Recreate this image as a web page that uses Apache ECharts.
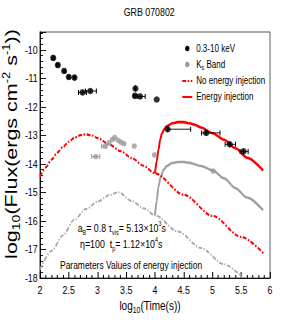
<!DOCTYPE html>
<html><head><meta charset="utf-8">
<script src="https://cdn.jsdelivr.net/npm/echarts@6/dist/echarts.min.js"></script>
<style>
html,body{margin:0;padding:0;background:#fff;width:300px;height:327px;overflow:hidden}
#c{width:390px;height:327px;transform:scaleX(0.76923);transform-origin:0 0}
</style>
</head><body><div id="c"></div>
<script>
// ---- data ----
const xrtT   = [2.23, 2.31, 2.42, 2.50, 2.60, 2.74, 2.875, 3.66, 3.65, 3.74, 4.03, 4.22, 4.89, 5.30, 5.54];
const xrtF   = [-10.28, -10.53, -10.74, -10.95, -10.97, -11.49, -11.44, -11.35, -11.61, -11.63, -11.74, -12.78, -12.91, -13.31, -13.56];
const xrtTLo = [2.21, 2.29, 2.40, 2.48, 2.58, 2.67, 2.79, 3.65, 3.63, 3.69, 4.03, 4.22, 4.81, 5.22, 5.48];
const xrtTHi = [2.25, 2.33, 2.44, 2.52, 2.62, 2.81, 2.98, 3.67, 3.67, 3.83, 4.03, 4.62, 5.13, 5.40, 5.62];
const xrtFErr= [0.08, 0.07, 0.07, 0.07, 0.07, 0.07, 0.07, 0.12, 0.06, 0.06, 0.0, 0.10, 0.08, 0.10, 0.10];

const ksT    = [2.97, 3.13, 3.20, 3.26, 3.30, 3.36, 3.41, 3.46, 3.64, 3.99, 5.01];
const ksF    = [-13.74, -13.38, -13.26, -13.14, -13.07, -13.17, -13.24, -13.29, -13.37, -13.68, -14.25];
const ksTLo  = [2.90, 3.07, 3.20, 3.26, 3.30, 3.36, 3.41, 3.46, 3.64, 3.99, 5.01];
const ksTHi  = [3.04, 3.16, 3.20, 3.26, 3.30, 3.36, 3.41, 3.46, 3.64, 3.99, 5.01];

const noInjXrtT = [2.0, 2.1, 2.2, 2.3, 2.4, 2.5, 2.6, 2.7, 2.8, 2.9, 3.0, 3.2, 3.4, 3.6, 3.8, 4.0, 4.5, 5.0, 5.5, 5.9];
const noInjXrtF = [-14.45, -14.12, -13.85, -13.6, -13.4, -13.22, -13.08, -12.99, -12.96, -13.0, -13.09, -13.31, -13.55, -13.8, -14.06, -14.33, -15.08, -15.82, -16.56, -17.16];

const injXrtT = [4.0, 4.03, 4.06, 4.09, 4.12, 4.16, 4.2, 4.3, 4.4, 4.5, 4.6, 4.7, 4.8, 5.0, 5.2, 5.4, 5.6, 5.88];
const injXrtF = [-14.33, -13.9, -13.5, -13.15, -12.93, -12.78, -12.68, -12.57, -12.53, -12.53, -12.57, -12.63, -12.72, -12.92, -13.15, -13.45, -13.78, -14.23];

const noInjKsT = [2.0, 2.2, 2.4, 2.6, 2.8, 3.0, 3.2, 3.36, 3.6, 3.8, 4.0, 4.4, 4.8, 5.2, 5.52];
const noInjKsF = [-17.7, -17.05, -16.5, -15.95, -15.58, -15.32, -15.1, -14.99, -15.3, -15.55, -15.8, -16.37, -16.95, -17.52, -17.98];

const injKsT = [4.0, 4.03, 4.06, 4.1, 4.15, 4.2, 4.3, 4.4, 4.5, 4.6, 4.8, 5.0, 5.2, 5.4, 5.6, 5.88];
const injKsF = [-15.8, -15.3, -14.8, -14.45, -14.2, -14.08, -13.97, -13.93, -13.93, -13.96, -14.07, -14.22, -14.5, -14.85, -15.18, -15.62];

const xTicks = {min: 2, max: 6, step: 0.5};
const yTicks = {min: -18, max: -9.37, step: 1};

const titleText = 'GRB 070802';
const seriesNames = ['0.3-10 keV', 'Ks Band', 'No energy injection', 'Energy injection'];

// ---- build ----
const SANS = "'Liberation Sans',Arial,Helvetica,sans-serif";
const zip = (a, b) => a.map((v, i) => [v, b[i]]);

function errRender(color, w) {
  return function (params, api) {
    const x = api.value(0), y = api.value(1), xl = api.value(2), xh = api.value(3), ye = api.value(4);
    const ch = [];
    const st = {stroke: color, lineWidth: w};
    if (xh > xl) {
      const a = api.coord([xl, y]), b = api.coord([xh, y]);
      ch.push({type: 'line', shape: {x1: a[0], y1: a[1], x2: b[0], y2: b[1]}, style: st});
      ch.push({type: 'line', shape: {x1: a[0], y1: a[1] - 2.5, x2: a[0], y2: a[1] + 2.5}, style: {stroke: color, lineWidth: w * 1.3}});
      ch.push({type: 'line', shape: {x1: b[0], y1: b[1] - 2.5, x2: b[0], y2: b[1] + 2.5}, style: {stroke: color, lineWidth: w * 1.3}});
    }
    if (ye > 0) {
      const c = api.coord([x, y - ye]), d = api.coord([x, y + ye]);
      ch.push({type: 'line', shape: {x1: c[0], y1: c[1], x2: d[0], y2: d[1]}, style: {stroke: color, lineWidth: w * 1.3}});
    }
    return {type: 'group', children: ch};
  };
}

const xrtErrData = xrtT.map((t, i) => [t, xrtF[i], xrtTLo[i], xrtTHi[i], xrtFErr[i]]);
const ksErrData = ksT.map((t, i) => [t, ksF[i], ksTLo[i], ksTHi[i], 0]);

const dotIcon = 'path://M0,0M13,10M6.5,5m-2.8,0a2.8,2.8 0 1,0 5.6,0a2.8,2.8 0 1,0 -5.6,0';
const hideSym = {color: 'rgba(0,0,0,0)', borderWidth: 0, opacity: 0};

const option = {
  animation: false,
  backgroundColor: '#fff',
  grid: {left: 52, right: 39, top: 32, bottom: 49, show: true, borderColor: '#555', borderWidth: 1.2, containLabel: false},
  legend: {
    left: 231, top: 38, orient: 'vertical', itemGap: 5, itemWidth: 13, itemHeight: 10,
    data: [
      {name: seriesNames[0], icon: dotIcon, itemStyle: {color: '#000'}},
      {name: seriesNames[1], icon: dotIcon, itemStyle: {color: '#9a9a9a'}},
      {name: seriesNames[2], itemStyle: hideSym},
      {name: seriesNames[3], itemStyle: hideSym}
    ],
    formatter: n => n === 'Ks Band' ? '{n|K}{s|s}{n| Band}' : '{n|' + n + '}',
    textStyle: {
      fontFamily: SANS, fontSize: 10.5, color: '#000',
      rich: {n: {fontFamily: SANS, fontSize: 10.5, color: '#000', lineHeight: 12},
             s: {fontFamily: SANS, fontSize: 7, color: '#000', verticalAlign: 'bottom', lineHeight: 7}}
    }
  },
  xAxis: {
    type: 'value', min: xTicks.min, max: xTicks.max, interval: xTicks.step,
    axisLine: {onZero: false, lineStyle: {color: '#000', width: 1}},
    axisTick: {inside: true, length: 6, lineStyle: {color: '#000', width: 1.3}},
    minorTick: {show: true, splitNumber: 5, length: 3, lineStyle: {color: '#000', width: 1.3}},
    splitLine: {show: false},
    axisLabel: {fontFamily: SANS, fontSize: 11.5, color: '#000', margin: 6, showMaxLabel: true}
  },
  yAxis: {
    type: 'value', min: yTicks.min, max: yTicks.max, interval: yTicks.step,
    axisLine: {onZero: false, lineStyle: {color: '#000', width: 1.3}},
    axisTick: {inside: true, length: 8, lineStyle: {color: '#000'}},
    minorTick: {show: true, splitNumber: 5, length: 4, lineStyle: {color: '#000'}},
    splitLine: {show: false},
    axisLabel: {fontFamily: SANS, fontSize: 11.5, color: '#000', margin: 3, showMaxLabel: false}
  },
  graphic: [
    {type: 'text', x: 194, y: 12,
     style: {text: titleText, font: '11.5px ' + SANS, fill: '#000', align: 'center', verticalAlign: 'middle'}},
    {type: 'text', x: 195, y: 306,
     style: {text: '{a|log}{b|10}{a|(Time(s))}', align: 'center', verticalAlign: 'middle',
       rich: {a: {font: '13px ' + SANS, fill: '#000', lineHeight: 18},
              b: {font: '9px ' + SANS, fill: '#000', verticalAlign: 'bottom', lineHeight: 9}}}},
    {type: 'text', x: 15, y: 144, rotation: Math.PI / 2,
     style: {text: '{a|log}{b|10}{a|(Flux(ergs cm}{c|-2}{a| s}{c|-1}{a|))}', align: 'center', verticalAlign: 'middle',
       rich: {a: {font: '21.5px ' + SANS, fill: '#000', lineHeight: 26},
              b: {font: '14px ' + SANS, fill: '#000', verticalAlign: 'bottom', lineHeight: 14},
              c: {font: '13px ' + SANS, fill: '#000', verticalAlign: 'top', lineHeight: 15}}}},
    {type: 'text', x: 101, y: 228,
     style: {text: '{a|a}{s|B}{a|= 0.8 τ}{s|vis}{a|= 5.13×10}{p|3}{a|s}', align: 'left', verticalAlign: 'middle',
       rich: {a: {font: '11.5px ' + SANS, fill: '#000', lineHeight: 16},
              s: {font: '7px ' + SANS, fill: '#000', verticalAlign: 'bottom', lineHeight: 7},
              p: {font: '7px ' + SANS, fill: '#000', verticalAlign: 'top', lineHeight: 9}}}},
    {type: 'text', x: 104, y: 244,
     style: {text: '{a|η=100  t}{s|p}{a|= 1.12×10}{p|4}{a|s}', align: 'left', verticalAlign: 'middle',
       rich: {a: {font: '11.5px ' + SANS, fill: '#000', lineHeight: 16},
              s: {font: '7px ' + SANS, fill: '#000', verticalAlign: 'bottom', lineHeight: 7},
              p: {font: '7px ' + SANS, fill: '#000', verticalAlign: 'top', lineHeight: 9}}}},
    {type: 'text', x: 78, y: 265,
     style: {text: 'Parameters Values of energy injection', font: '11px ' + SANS, fill: '#000', align: 'left', verticalAlign: 'middle'}}
  ],
  series: [
    {name: seriesNames[2], type: 'line', data: zip(noInjXrtT, noInjXrtF), symbol: 'none', smooth: 0.3, smoothMonotone: 'x',
     lineStyle: {color: '#ff0000', width: 2.2, type: [5, 2, 2, 2]}, itemStyle: {color: '#ff0000'}, z: 3},
    {name: seriesNames[3], type: 'line', data: zip(injXrtT, injXrtF), symbol: 'none', smooth: 0.3, smoothMonotone: 'x',
     lineStyle: {color: '#ff0000', width: 2.6}, itemStyle: {color: '#ff0000'}, z: 3},
    {name: 'Ks no energy injection', type: 'line', data: zip(noInjKsT, noInjKsF), symbol: 'none', smooth: 0.3, smoothMonotone: 'x',
     lineStyle: {color: '#a8a8a8', width: 2, type: [5, 2, 1.5, 2]}, itemStyle: {color: '#a8a8a8'}, z: 2},
    {name: 'Ks energy injection', type: 'line', data: zip(injKsT, injKsF), symbol: 'none', smooth: 0.3, smoothMonotone: 'x',
     lineStyle: {color: '#a0a0a0', width: 2.5}, itemStyle: {color: '#a0a0a0'}, z: 2},
    {name: seriesNames[1], type: 'custom', renderItem: errRender('#999', 1), data: ksErrData, z: 4, encode: {x: 0, y: 1},
     itemStyle: {color: '#9a9a9a'}},
    {name: seriesNames[1], type: 'scatter', data: zip(ksT, ksF), symbol: 'circle', symbolSize: [7, 5.5],
     itemStyle: {color: '#9a9a9a'}, z: 4},
    {name: seriesNames[0], type: 'custom', renderItem: errRender('#000', 1), data: xrtErrData, z: 5, encode: {x: 0, y: 1},
     itemStyle: {color: '#000'}},
    {name: seriesNames[0], type: 'scatter', data: zip(xrtT, xrtF), symbol: 'circle', symbolSize: [8, 6.5],
     itemStyle: {color: '#000'}, z: 5}
  ]
};

const chart = echarts.init(document.getElementById('c'), null, {renderer: 'svg'});
chart.setOption(option);
</script>
</body></html>
